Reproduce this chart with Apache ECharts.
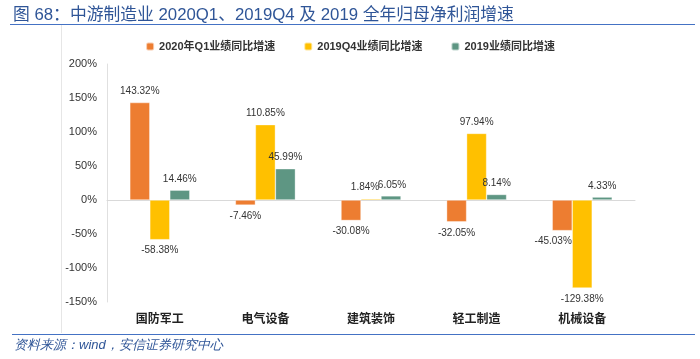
<!DOCTYPE html>
<html><head><meta charset="utf-8">
<script src="https://cdn.jsdelivr.net/npm/echarts@6/dist/echarts.min.js"></script>
<style>html,body{margin:0;padding:0;background:#fff}#c{width:700px;height:359px}</style>
</head><body><div id="c"></div>
<script>
const categories = ['国防军工', '电气设备', '建筑装饰', '轻工制造', '机械设备'];
const seriesNames = ['2020年Q1业绩同比增速', '2019Q4业绩同比增速', '2019业绩同比增速'];
const q1_2020 = [143.32, -7.46, -30.08, -32.05, -45.03];
const q4_2019 = [-58.38, 110.85, 1.84, 97.94, -129.38];
const fy_2019 = [14.46, 45.99, 6.05, 8.14, 4.33];
const yTicks = { min: -150, max: 200, interval: 50 };
const colors = ['#ED7D31', '#FFC000', '#5E9683'];
// small label nudges (series index -> category index -> [dx, dy]) to avoid overlaps as in the original
const labelNudge = { 0: { 4: [-9, 0] }, 1: { 2: [-6, 0] }, 2: { 2: [1, 0] } };

const chart = echarts.init(document.getElementById('c'));
function mk(si, vals, color) {
  return {
    name: seriesNames[si], type: 'bar', barWidth: 20, barGap: '0%', xAxisIndex: 0,
    itemStyle: { color, borderColor: 'rgba(255,255,255,0.6)', borderWidth: 0.6 },
    data: vals.map((v, i) => ({ value: v, label: { position: v < 0 ? 'bottom' : 'top',
      offset: (labelNudge[si] && labelNudge[si][i]) || [0, 0] } })),
    label: { show: true, fontSize: 10, color: '#333', distance: 6, fontFamily: 'Arial, Liberation Sans',
      formatter: p => p.value.toFixed(2) + '%' }
  };
}
chart.setOption({
  animation: false,
  textStyle: { fontFamily: 'Liberation Sans, Arial, Noto Sans CJK SC' },
  color: colors,
  title: { text: '图 68：中游制造业 2020Q1、2019Q4 及 2019 全年归母净利润增速', left: 8, top: 2,
    textStyle: { fontSize: 16.8, fontWeight: 'normal', color: '#2F5597', fontFamily: 'Liberation Sans, Noto Sans CJK SC' } },
  legend: { top: 36, left: 'center', itemWidth: 8, itemHeight: 8, itemGap: 28,
    textStyle: { fontSize: 11, color: '#333', fontWeight: 'bold', fontFamily: 'Liberation Sans, Noto Sans CJK SC' },
    data: seriesNames },
  grid: { left: 107, right: 65, top: 64, bottom: 57 },
  xAxis: [
    { type: 'category', data: categories, position: 'bottom',
      axisLine: { show: false, onZero: false }, axisTick: { show: false },
      axisLabel: { fontSize: 12, color: '#222', fontWeight: 'bold', margin: 10, fontFamily: 'Noto Sans CJK SC' } },
    { type: 'category', data: categories, position: 'bottom',
      axisLine: { show: true, onZero: true, lineStyle: { color: '#d9d9d9', width: 1 } },
      axisTick: { show: false }, axisLabel: { show: false } }
  ],
  yAxis: { type: 'value', min: yTicks.min, max: yTicks.max, interval: yTicks.interval,
    axisLine: { show: true, lineStyle: { color: '#e0e0e0' } }, axisTick: { show: false },
    splitLine: { show: false },
    axisLabel: { fontSize: 11, color: '#333', margin: 10, formatter: v => v + '%' } },
  graphic: [
    { type: 'line', shape: { x1: 10, y1: 24.5, x2: 695, y2: 24.5 }, style: { stroke: '#4472C4', lineWidth: 1.2 } },
    { type: 'line', shape: { x1: 61.5, y1: 25, x2: 61.5, y2: 333 }, style: { stroke: '#e6e6e6', lineWidth: 1 } },
    { type: 'line', shape: { x1: 12, y1: 334.5, x2: 695, y2: 334.5 }, style: { stroke: '#4472C4', lineWidth: 1.2 } },
    { type: 'text', left: 14, top: 339, style: { text: '资料来源：wind，安信证券研究中心', fontSize: 13, fontStyle: 'italic',
      fill: '#2F5597', font: 'italic 13px Liberation Sans, Noto Sans CJK SC' } }
  ],
  series: [mk(0, q1_2020, colors[0]), mk(1, q4_2019, colors[1]), mk(2, fy_2019, colors[2])]
});
</script></body></html>
